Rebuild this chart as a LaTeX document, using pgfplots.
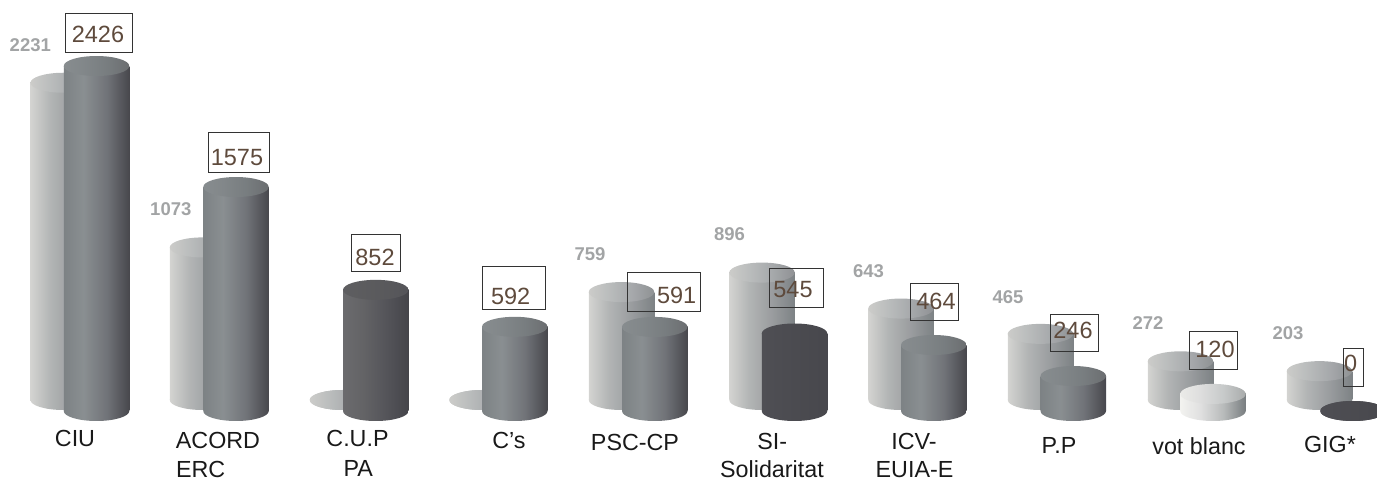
\documentclass[border=0pt]{standalone}
\usepackage{fontspec}
\setmainfont{Liberation Sans}
\usepackage{pgfplots}
\pgfplotsset{compat=1.18}
\usetikzlibrary{shapes.geometric}

\definecolor{numbrown}{HTML}{5E4A3C}
\definecolor{numgrey}{HTML}{A2A4A5}
\definecolor{boxline}{HTML}{333333}

% four stop horizontal shading: #1 name, #2..#5 colours
\newcommand{\hshade}[5]{%
  \pgfdeclarehorizontalshading{#1}{100bp}{%
    rgb(0bp)=(#2); rgb(25bp)=(#2); rgb(40bp)=(#3); rgb(58bp)=(#4); rgb(75bp)=(#5); rgb(100bp)=(#5)}}

\hshade{backbody}{.83,.83,.82}{.70,.71,.71}{.60,.61,.62}{.49,.51,.52}
\hshade{backtop}{.80,.80,.79}{.73,.74,.74}{.65,.66,.67}{.56,.57,.58}
\hshade{midbody}{.49,.51,.52}{.54,.56,.57}{.44,.45,.47}{.28,.28,.30}
\hshade{midtop}{.53,.55,.56}{.51,.53,.54}{.47,.49,.50}{.42,.43,.44}
\hshade{cupbody}{.42,.42,.43}{.39,.39,.40}{.33,.33,.35}{.27,.27,.29}
\hshade{cuptop}{.37,.37,.38}{.36,.36,.37}{.35,.35,.36}{.33,.33,.35}
\hshade{sibody}{.31,.31,.33}{.30,.30,.32}{.29,.29,.31}{.28,.28,.30}
\hshade{votbody}{.95,.95,.94}{.88,.88,.88}{.72,.73,.73}{.47,.49,.50}
\hshade{vottop}{.92,.92,.91}{.87,.87,.87}{.78,.79,.79}{.66,.67,.67}

\pgfplotsset{
  pic axis/.style={scale only axis, width=1377pt, height=480pt, hide axis, clip=false,
    xmin=0, xmax=1377},
  cap/.style={draw=none, mark=none, forget plot,
    nodes near coords={},
    every node near coord/.append style={ellipse, anchor=center, inner sep=0pt, outer sep=0pt,
      minimum width=65.5pt, minimum height=20pt, draw=none, shading=#1}},
}

% x, value, body shading, top shading
% (a shaded ybar plot shades all its bars as one path, so one plot per cylinder)
\newcommand{\cyl}[4]{%
  \addplot[cap=#3] coordinates {(#1,0)};
  \addplot[ybar, bar width=65.5, bar shift=0pt, draw=none, shading=#3, forget plot] coordinates {(#1,#2)};
  \addplot[cap=#4] coordinates {(#1,#2)};
}
% boxed number: x0 x1 y0 y1, text centre x, baseline y, text
\newcommand{\boxnum}[7]{%
  \draw[boxline, line width=.9pt] (axis cs:#1,#3) rectangle (axis cs:#2,#4);
  \node[anchor=base, inner sep=0pt, text=numbrown, font=\fontsize{23.5}{26}\selectfont] at (axis cs:#5,#6) {#7};
}
\newcommand{\greynum}[3]{%
  \node[anchor=base, inner sep=0pt, text=numgrey, font=\fontsize{18.5}{20}\selectfont\bfseries] at (axis cs:#1,#2) {#3};
}
\newcommand{\cat}[3]{%
  \node[anchor=base, inner sep=0pt, text=black!90, font=\fontsize{23.3}{26}\selectfont] at (axis cs:#1,#2) {#3};
}

\begin{document}
\begin{tikzpicture}
\path[use as bounding box, clip] (0,0) rectangle (1377pt,480pt);

% back row, 0.1422 px per vote, base 80 px above the lower edge
\begin{axis}[pic axis, ymin=-562.6, ymax=2812.9]
  \cyl{63.25}{2231}{backbody}{backtop}
  \cyl{202.5}{1073}{backbody}{backtop}
  \cyl{342.5}{0}{backbody}{backtop}
  \cyl{482}{0}{backbody}{backtop}
  \cyl{621.5}{759}{backbody}{backtop}
  \cyl{762}{896}{backbody}{backtop}
  \cyl{901}{643}{backbody}{backtop}
  \cyl{1040.5}{465}{backbody}{backtop}
  \cyl{1180.5}{272}{backbody}{backtop}
  \cyl{1319.5}{203}{backbody}{backtop}
\end{axis}

% front row, same scale, base 69 px above the lower edge
\begin{axis}[pic axis, ymin=-485.23, ymax=2890.3]
  \cyl{96.5}{2426}{midbody}{midtop}
  \cyl{236}{1575}{midbody}{midtop}
  \cyl{375.75}{852}{cupbody}{cuptop}
  \cyl{514.75}{592}{midbody}{midtop}
  \cyl{654.75}{591}{midbody}{midtop}
  \cyl{794.5}{545}{sibody}{sibody}
  \cyl{933.75}{464}{midbody}{midtop}
  \cyl{1073.3}{246}{midbody}{midtop}
  \cyl{1213}{120}{votbody}{vottop}
  \cyl{1353}{0}{sibody}{sibody}
\end{axis}

\begin{axis}[pic axis, ymin=0, ymax=480, y dir=reverse]
  \boxnum{65}{132}{13}{52.5}{98}{42.5}{2426}
  \boxnum{208.3}{269}{132.7}{172}{237}{165.5}{1575}
  \boxnum{351}{400}{234}{271.5}{375}{265.5}{852}
  \boxnum{482}{545.7}{266}{309}{510.7}{304}{592}
  \boxnum{627}{700.7}{272}{311}{676.7}{303.5}{591}
  \boxnum{769}{823.7}{268}{307.5}{793}{297.5}{545}
  \boxnum{910}{958}{283}{320}{936}{309}{464}
  \boxnum{1050}{1098.7}{314}{351}{1073}{338.5}{246}
  \boxnum{1189}{1237.7}{331.7}{369}{1215}{357.5}{120}
  \boxnum{1343}{1363.7}{348.7}{386}{1350.7}{371.5}{0}

  \greynum{30.3}{51.5}{2231}
  \greynum{170.8}{215.5}{1073}
  \greynum{590}{260.5}{759}
  \greynum{729.5}{240.5}{896}
  \greynum{868.5}{277}{643}
  \greynum{1008}{303}{465}
  \greynum{1148}{329.5}{272}
  \greynum{1288}{339}{203}

  \cat{75}{446}{CIU}
  \cat{218}{448.7}{ACORD}
  \cat{200.7}{477}{ERC}
  \cat{357.5}{446}{C.U.P}
  \cat{358.3}{476}{PA}
  \cat{509}{448.7}{C’s}
  \cat{635}{450}{PSC-CP}
  \cat{772.3}{449}{SI-}
  \cat{772}{477}{Solidaritat}
  \cat{914}{449}{ICV-}
  \cat{914.5}{477.5}{EUIA-E}
  \cat{1059}{453}{P.P}
  \cat{1199}{454.7}{vot blanc}
  \cat{1330}{452}{GIG*}
\end{axis}
\end{tikzpicture}
\end{document}
